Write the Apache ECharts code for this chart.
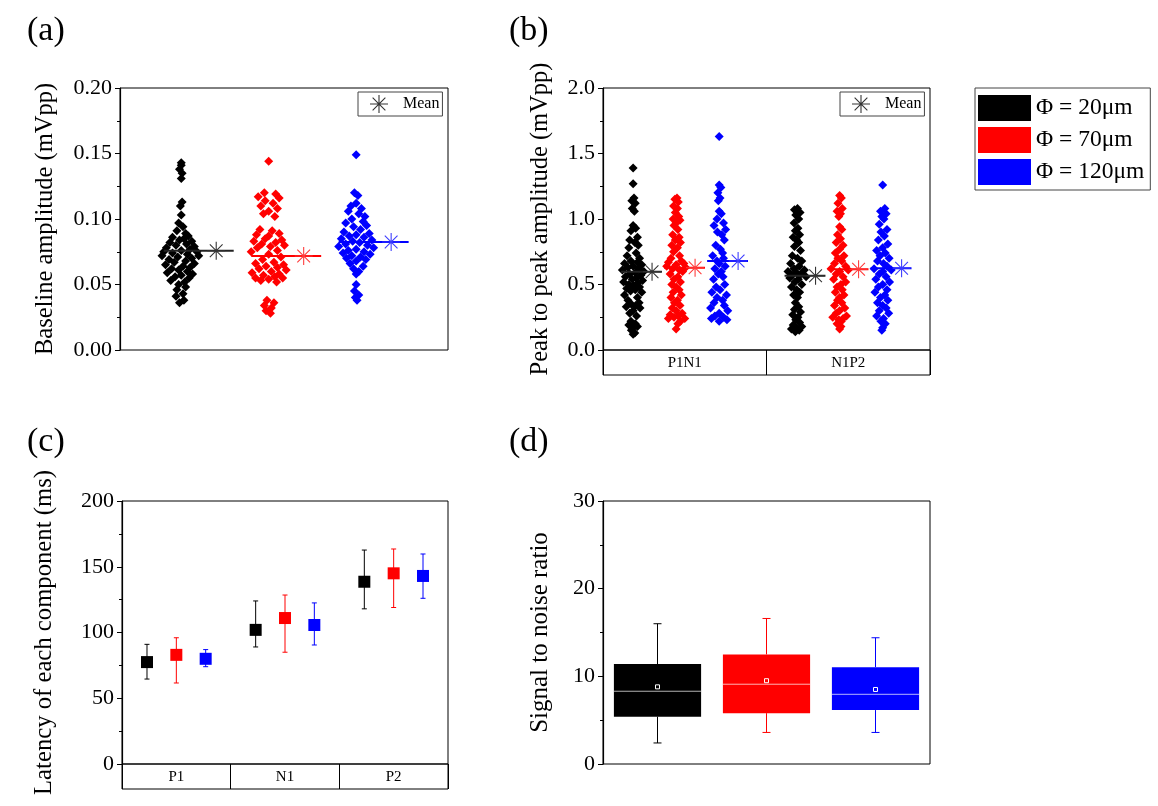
<!DOCTYPE html>
<html><head><meta charset="utf-8">
<script src="https://cdn.jsdelivr.net/npm/echarts@6/dist/echarts.min.js"></script>
<style>html,body{margin:0;padding:0;background:#fff}#c{width:1158px;height:806px}</style>
</head><body><div id="c"></div>
<script>
const FONT = '"Liberation Serif","Times New Roman",serif';
const STAR = 'path://M0 47L100 47L100 53L0 53Z M47 0L53 0L53 100L47 100Z M16.7 12.5L87.5 83.3L83.3 87.5L12.5 16.7Z M83.3 12.5L87.5 16.7L16.7 87.5L12.5 83.3Z';

const groupNames = ['Φ = 20μm', 'Φ = 70μm', 'Φ = 120μm'];
const groupColors = ['#000000', '#ff0000', '#0000ff'];
const starColors = ['#333333', '#ff3b3b', '#3b3bff'];

// ---- (a) Baseline amplitude: [x-jitter, value]
const aPositions = [1, 2, 3];
const aMeans = [0.0758, 0.0718, 0.0824];
const aBlack = [[0,0.143],[0,0.141],[-0.02,0.138],[0.01,0.135],[0,0.131],[0.01,0.113],[-0.01,0.110],[0,0.103],[-0.03,0.097],[0.02,0.094],[-0.05,0.091],[0.05,0.089],[0.08,0.087],[-0.1,0.086],[0.03,0.085],[-0.02,0.084],[0.12,0.083],[-0.13,0.082],[0.06,0.081],[-0.06,0.080],[0.15,0.079],[-0.17,0.078],[0.1,0.077],[0.0,0.076],[-0.2,0.075],[0.18,0.075],[-0.1,0.074],[0.07,0.073],[-0.22,0.072],[0.2,0.072],[-0.04,0.071],[0.12,0.070],[-0.14,0.069],[0.05,0.068],[-0.08,0.067],[0.15,0.066],[-0.18,0.065],[0.02,0.064],[0.1,0.063],[-0.11,0.062],[-0.03,0.061],[0.07,0.060],[-0.16,0.059],[0.13,0.058],[0.0,0.057],[-0.07,0.056],[0.09,0.055],[-0.12,0.053],[0.04,0.052],[-0.03,0.050],[0.05,0.048],[-0.05,0.046],[0.02,0.043],[-0.06,0.041],[0.03,0.038],[-0.02,0.036]];
const aRed = [[0,0.144],[-0.05,0.120],[0.08,0.119],[-0.12,0.117],[0.12,0.116],[-0.04,0.114],[0.05,0.112],[-0.09,0.110],[0.1,0.108],[0.0,0.106],[-0.06,0.104],[0.07,0.102],[-0.1,0.092],[0.04,0.091],[0.12,0.089],[-0.14,0.088],[0.0,0.087],[-0.04,0.085],[0.15,0.084],[-0.17,0.083],[0.08,0.082],[-0.08,0.081],[0.18,0.080],[0.02,0.079],[-0.13,0.078],[0.1,0.076],[-0.2,0.075],[0.0,0.073],[0.14,0.071],[-0.07,0.069],[0.06,0.067],[-0.15,0.066],[0.17,0.065],[-0.03,0.064],[0.1,0.063],[-0.11,0.062],[0.2,0.061],[0.03,0.060],[-0.19,0.059],[0.12,0.058],[-0.06,0.057],[0.07,0.056],[-0.15,0.055],[0.16,0.055],[0.0,0.054],[-0.09,0.053],[0.09,0.052],[-0.02,0.038],[0.06,0.036],[-0.05,0.034],[0.03,0.032],[-0.03,0.030],[0.02,0.028]];
const aBlue = [[0,0.149],[-0.02,0.120],[0.02,0.118],[0.0,0.112],[-0.06,0.110],[0.06,0.108],[-0.09,0.106],[0.03,0.104],[0.1,0.102],[-0.05,0.100],[0.08,0.098],[-0.12,0.097],[0.12,0.095],[-0.03,0.094],[0.05,0.092],[-0.14,0.090],[0.15,0.089],[0.0,0.088],[-0.08,0.087],[0.09,0.086],[-0.17,0.085],[0.18,0.084],[-0.04,0.083],[0.04,0.082],[-0.12,0.081],[0.13,0.080],[-0.2,0.079],[0.2,0.078],[0.0,0.077],[-0.09,0.076],[0.09,0.075],[-0.15,0.074],[0.16,0.073],[-0.05,0.072],[0.05,0.071],[-0.11,0.070],[0.11,0.069],[0.0,0.068],[-0.07,0.066],[0.08,0.064],[-0.03,0.062],[0.03,0.060],[0.0,0.058],[0.0,0.050],[-0.02,0.045],[0.03,0.042],[-0.01,0.040],[0.01,0.038]];

// ---- (b) Peak to peak amplitude: [x-jitter, value]
const bCategories = ['P1N1', 'N1P2'];
const bPositionsP1N1 = [1, 2, 3];
const bPositionsN1P2 = [4.8, 5.8, 6.8];
const bMeansP1N1 = [0.598, 0.628, 0.679];
const bMeansN1P2 = [0.567, 0.616, 0.624];
const bP1N1Black = [[0,1.39],[0,1.27],[0.02,1.16],[-0.03,1.14],[0.05,1.12],[-0.02,1.08],[0.03,1.06],[0.0,0.95],[0.06,0.93],[-0.05,0.91],[0.1,0.86],[-0.08,0.84],[0.04,0.82],[0.12,0.80],[-0.1,0.78],[0.07,0.74],[-0.14,0.72],[0.15,0.70],[-0.05,0.68],[0.1,0.67],[-0.2,0.66],[0.2,0.65],[0.0,0.64],[-0.12,0.63],[0.13,0.62],[-0.25,0.61],[0.25,0.60],[0.05,0.59],[-0.08,0.58],[0.18,0.57],[-0.18,0.56],[0.08,0.55],[-0.02,0.54],[0.22,0.53],[-0.22,0.52],[0.1,0.51],[-0.1,0.50],[0.0,0.49],[0.15,0.48],[-0.15,0.47],[0.05,0.46],[-0.06,0.45],[0.2,0.44],[-0.2,0.42],[0.1,0.40],[-0.12,0.38],[0.14,0.36],[-0.04,0.35],[0.06,0.34],[-0.16,0.33],[0.16,0.32],[0.0,0.30],[-0.08,0.28],[0.08,0.26],[-0.05,0.22],[0.05,0.20],[-0.1,0.19],[0.1,0.18],[0.0,0.17],[-0.04,0.15],[0.04,0.13],[0.0,0.12]];
const bP1N1Red = [[0.02,1.16],[-0.03,1.15],[0.05,1.13],[-0.06,1.10],[0.03,1.08],[-0.02,1.05],[0.06,1.02],[-0.07,1.00],[0.09,0.99],[0.0,0.97],[-0.05,0.95],[0.04,0.92],[-0.08,0.88],[0.07,0.86],[-0.02,0.84],[0.1,0.82],[-0.1,0.80],[0.03,0.78],[-0.06,0.75],[0.08,0.72],[-0.12,0.70],[0.12,0.68],[-0.18,0.67],[0.18,0.66],[0.0,0.65],[-0.22,0.64],[0.22,0.63],[-0.08,0.62],[0.08,0.61],[0.15,0.60],[-0.14,0.58],[0.04,0.56],[-0.05,0.54],[0.1,0.52],[-0.1,0.50],[0.0,0.48],[0.07,0.46],[-0.07,0.44],[0.12,0.42],[-0.12,0.40],[0.03,0.38],[-0.04,0.36],[0.09,0.34],[-0.09,0.32],[0.0,0.30],[0.14,0.28],[-0.14,0.27],[0.05,0.26],[-0.05,0.25],[0.2,0.24],[-0.18,0.24],[0.1,0.22],[0.04,0.20],[0.0,0.16]];
const bP1N1Blue = [[0,1.63],[0.0,1.26],[0.04,1.24],[-0.03,1.20],[0.02,1.16],[-0.02,1.14],[0.0,1.06],[0.05,1.04],[-0.05,1.00],[0.1,0.97],[-0.12,0.95],[0.15,0.92],[-0.04,0.90],[0.06,0.88],[0.12,0.84],[-0.08,0.80],[0.03,0.77],[0.08,0.74],[-0.15,0.72],[0.1,0.70],[-0.05,0.68],[0.0,0.66],[0.14,0.64],[-0.1,0.62],[0.05,0.60],[-0.02,0.58],[0.09,0.56],[-0.13,0.54],[0.13,0.50],[-0.07,0.48],[0.02,0.46],[-0.17,0.44],[0.17,0.42],[-0.05,0.40],[0.08,0.38],[-0.12,0.36],[0.12,0.34],[-0.2,0.32],[0.2,0.30],[0.0,0.28],[-0.1,0.26],[0.1,0.25],[-0.18,0.24],[0.18,0.23],[0.0,0.22]];
const bN1P2Black = [[0.02,1.08],[-0.05,1.07],[0.08,1.05],[-0.02,1.03],[0.05,1.00],[-0.06,0.97],[0.03,0.93],[-0.03,0.91],[0.07,0.88],[-0.08,0.86],[0.0,0.84],[0.05,0.82],[-0.05,0.79],[0.09,0.76],[-0.1,0.72],[0.02,0.70],[0.12,0.68],[-0.14,0.66],[0.06,0.64],[-0.06,0.62],[0.18,0.61],[-0.2,0.60],[0.0,0.59],[0.1,0.58],[-0.1,0.57],[0.22,0.56],[-0.16,0.55],[0.04,0.54],[-0.04,0.52],[0.12,0.50],[-0.12,0.48],[0.0,0.46],[0.07,0.44],[-0.07,0.42],[0.02,0.40],[-0.03,0.36],[0.05,0.33],[-0.05,0.31],[0.09,0.29],[-0.09,0.27],[0.03,0.25],[-0.02,0.23],[0.07,0.21],[-0.08,0.19],[0.12,0.18],[0.0,0.17],[-0.12,0.16],[0.06,0.15],[-0.03,0.14]];
const bN1P2Red = [[0.0,1.18],[0.04,1.16],[-0.04,1.12],[0.06,1.08],[-0.06,1.06],[0.02,1.04],[-0.02,1.02],[0.0,0.94],[0.05,0.92],[-0.05,0.88],[0.02,0.85],[-0.08,0.82],[0.08,0.80],[0.0,0.77],[-0.1,0.74],[0.1,0.72],[-0.04,0.70],[0.05,0.68],[-0.12,0.66],[0.14,0.64],[-0.2,0.62],[0.2,0.61],[0.0,0.60],[-0.08,0.58],[0.08,0.56],[-0.14,0.54],[0.14,0.52],[0.03,0.50],[-0.06,0.48],[0.06,0.46],[-0.1,0.44],[0.1,0.42],[0.0,0.40],[-0.05,0.38],[0.05,0.36],[-0.12,0.34],[0.12,0.32],[0.0,0.30],[-0.08,0.28],[0.16,0.26],[-0.16,0.25],[0.08,0.24],[-0.02,0.23],[0.04,0.22],[-0.06,0.20],[0.03,0.18],[0.0,0.16]];
const bN1P2Blue = [[0.0,1.26],[0.05,1.08],[-0.05,1.06],[0.08,1.04],[-0.02,1.02],[0.03,1.00],[-0.08,0.96],[0.1,0.92],[-0.04,0.90],[0.04,0.87],[-0.1,0.84],[0.12,0.81],[0.0,0.78],[-0.14,0.76],[0.06,0.74],[-0.06,0.72],[0.15,0.70],[-0.12,0.68],[0.02,0.66],[0.1,0.64],[-0.2,0.62],[0.2,0.61],[0.0,0.60],[-0.08,0.58],[0.08,0.56],[-0.16,0.54],[0.16,0.52],[0.0,0.50],[-0.1,0.48],[0.1,0.46],[-0.18,0.44],[0.05,0.42],[-0.05,0.40],[0.12,0.38],[-0.12,0.36],[0.0,0.34],[0.08,0.32],[-0.08,0.30],[0.14,0.28],[-0.14,0.26],[0.02,0.24],[-0.04,0.22],[0.06,0.20],[0.0,0.17],[-0.02,0.15]];

// ---- (c) Latency (ms): mean, lower, upper per component
const cCategories = ['P1', 'N1', 'P2'];
const cOffsets = [-0.27, 0, 0.27];
const cMeanBlack = [77.5, 102.0, 138.6];
const cLowBlack = [64.6, 89.0, 118.0];
const cHighBlack = [91.0, 124.0, 162.7];
const cMeanRed = [83.0, 111.0, 145.0];
const cLowRed = [61.6, 85.0, 119.0];
const cHighRed = [96.0, 128.5, 163.5];
const cMeanBlue = [80.0, 105.7, 143.0];
const cLowBlue = [74.0, 90.5, 126.0];
const cHighBlue = [87.0, 122.5, 159.7];

// ---- (d) SNR box: [whiskerLow, q1, median, q3, whiskerHigh]
const dBoxBlack = [2.4, 5.4, 8.3, 11.4, 16.0];
const dBoxRed = [3.6, 5.8, 9.1, 12.5, 16.6];
const dBoxBlue = [3.6, 6.15, 7.95, 11.05, 14.4];
const dMeans = [8.8, 9.5, 8.5];

// ================= build =================
function yAx(gi, min, max, interval, digits, name, nameGap, nameSize) {
  return {
    type: 'value', gridIndex: gi, min, max, interval,
    name, nameLocation: 'middle', nameGap,
    nameTextStyle: { fontFamily: FONT, fontSize: nameSize, color: '#000' },
    axisLine: { show: true, lineStyle: { color: '#000', width: 1.2 } },
    axisTick: { show: true, inside: false, length: 5, lineStyle: { color: '#000' } },
    minorTick: { show: true, splitNumber: 2, length: 3, lineStyle: { color: '#000' } },
    splitLine: { show: false }, minorSplitLine: { show: false },
    axisLabel: { fontFamily: FONT, fontSize: 22, color: '#000', margin: 8, formatter: v => v.toFixed(digits) }
  };
}
function catAx(gi, data) {
  return { type: 'category', gridIndex: gi, data, position: 'top',
    axisLine: { show: false }, axisTick: { show: false },
    splitLine: { show: true, lineStyle: { color: '#000', width: 1 } },
    axisLabel: { inside: true, margin: 6, fontFamily: FONT, fontSize: 15, color: '#000' } };
}
const gridStyle = { show: true, borderColor: '#000', borderWidth: 1, backgroundColor: 'transparent' };

const series = [];
function jitter(xi, pts, pos, ci) {
  series.push({ type: 'scatter', name: groupNames[ci], xAxisIndex: xi, yAxisIndex: xi, symbol: 'diamond', symbolSize: 9,
    itemStyle: { color: groupColors[ci], opacity: 1 }, z: 2, silent: true, data: pts.map(p => [pos + p[0], p[1]]) });
}
function meanMark(xi, pos, mean, ci, l, r, off) {
  series.push({ type: 'line', name: groupNames[ci], xAxisIndex: xi, yAxisIndex: xi, symbol: 'none', silent: true, z: 3,
    lineStyle: { color: ci === 0 ? '#222' : groupColors[ci], width: 2 }, data: [[pos + l, mean], [pos + r, mean]] });
  series.push({ type: 'scatter', name: 'Mean', xAxisIndex: xi, yAxisIndex: xi, symbol: STAR, symbolSize: 18, silent: true, z: 4,
    itemStyle: { color: starColors[ci], opacity: 1 }, data: [[pos + off, mean]] });
}
// (a)
[aBlack, aRed, aBlue].forEach((pts, i) => jitter(0, pts, aPositions[i], i));
aMeans.forEach((m, i) => meanMark(0, aPositions[i], m, i, -0.2, 0.6, 0.4));
// (b)
[bP1N1Black, bP1N1Red, bP1N1Blue].forEach((pts, i) => jitter(1, pts, bPositionsP1N1[i], i));
[bN1P2Black, bN1P2Red, bN1P2Blue].forEach((pts, i) => jitter(1, pts, bPositionsN1P2[i], i));
bMeansP1N1.forEach((m, i) => meanMark(1, bPositionsP1N1[i], m, i, -0.28, 0.67, 0.44));
bMeansN1P2.forEach((m, i) => meanMark(1, bPositionsN1P2[i], m, i, -0.28, 0.67, 0.44));
// (c)
[[cMeanBlack, cLowBlack, cHighBlack], [cMeanRed, cLowRed, cHighRed], [cMeanBlue, cLowBlue, cHighBlue]].forEach((g, ci) => {
  const [means, lows, highs] = g;
  const color = groupColors[ci];
  series.push({ type: 'custom', name: groupNames[ci], xAxisIndex: 3, yAxisIndex: 3, z: 2, silent: true,
    data: lows.map((lo, i) => [i + 0.5 + cOffsets[ci], lo, highs[i]]),
    encode: { x: 0, y: [1, 2] },
    renderItem: (params, api) => {
      const x = api.value(0);
      const a = api.coord([x, api.value(1)]), b = api.coord([x, api.value(2)]);
      const w = 2.5;
      return { type: 'group', children: [
        { type: 'line', shape: { x1: a[0], y1: a[1], x2: b[0], y2: b[1] }, style: { stroke: color, lineWidth: 1 } },
        { type: 'line', shape: { x1: a[0] - w, y1: a[1], x2: a[0] + w, y2: a[1] }, style: { stroke: color, lineWidth: 1 } },
        { type: 'line', shape: { x1: b[0] - w, y1: b[1], x2: b[0] + w, y2: b[1] }, style: { stroke: color, lineWidth: 1 } }
      ] };
    } });
  series.push({ type: 'scatter', name: groupNames[ci], xAxisIndex: 3, yAxisIndex: 3, symbol: 'rect', symbolSize: 12, z: 3, silent: true,
    itemStyle: { color, opacity: 1 }, data: means.map((m, i) => [i + 0.5 + cOffsets[ci], m]) });
});
// (d)
[dBoxBlack, dBoxRed, dBoxBlue].forEach((box, ci) => {
  const color = groupColors[ci];
  series.push({ type: 'custom', name: groupNames[ci], xAxisIndex: 5, yAxisIndex: 5, silent: true,
    data: [[ci, ...box, dMeans[ci]]],
    encode: { x: 0, y: [1, 2, 3, 4, 5, 6] },
    renderItem: (params, api) => {
      const c = api.value(0);
      const band = api.size([1, 0])[0];
      const bw = band * 0.8;
      const p = [1, 2, 3, 4, 5, 6].map(k => api.coord([c, api.value(k)]));
      const x = p[0][0], cap = 4;
      const ln = (x1, y1, x2, y2, s) => ({ type: 'line', shape: { x1, y1, x2, y2 }, style: { stroke: s, lineWidth: 1 } });
      return { type: 'group', children: [
        ln(x, p[4][1], x, p[3][1], color),
        ln(x, p[1][1], x, p[0][1], color),
        ln(x - cap, p[4][1], x + cap, p[4][1], color),
        ln(x - cap, p[0][1], x + cap, p[0][1], color),
        { type: 'rect', shape: { x: x - bw / 2, y: p[3][1], width: bw, height: p[1][1] - p[3][1] }, style: { fill: color } },
        ln(x - bw / 2, p[2][1], x + bw / 2, p[2][1], 'rgba(255,255,255,0.7)'),
        { type: 'rect', shape: { x: x - 2, y: p[5][1] - 2, width: 4, height: 4 }, style: { fill: 'none', stroke: '#fff', lineWidth: 1 } }
      ] };
    } });
});

const titleStyle = { fontFamily: FONT, fontSize: 34, fontWeight: 'normal', color: '#000' };
const option = {
  animation: false,
  backgroundColor: '#fff',
  title: [
    { text: '(a)', left: 22, top: 9, textStyle: titleStyle },
    { text: '(b)', left: 504, top: 9, textStyle: titleStyle },
    { text: '(c)', left: 22, top: 420, textStyle: titleStyle },
    { text: '(d)', left: 504, top: 420, textStyle: titleStyle }
  ],
  legend: [
    { data: groupNames, orient: 'vertical', left: 975, top: 88, itemWidth: 53, itemHeight: 26, itemGap: 6, icon: 'rect',
      padding: [7, 6, 5, 3], borderColor: '#444', borderWidth: 1, selectedMode: false,
      textStyle: { fontFamily: FONT, fontSize: 23.5, color: '#000' } },
    { data: [{ name: 'Mean', icon: STAR }], left: 358, top: 92, itemWidth: 18, itemHeight: 18, padding: [3, 3, 3, 12],
      borderColor: '#444', borderWidth: 1, selectedMode: false,
      textStyle: { fontFamily: FONT, fontSize: 16, color: '#000', padding: [0, 0, 0, 10] } },
    { data: [{ name: 'Mean', icon: STAR }], left: 840, top: 92, itemWidth: 18, itemHeight: 18, padding: [3, 3, 3, 12],
      borderColor: '#444', borderWidth: 1, selectedMode: false,
      textStyle: { fontFamily: FONT, fontSize: 16, color: '#000', padding: [0, 0, 0, 10] } }
  ],
  grid: [
    Object.assign({ left: 120, top: 88, width: 328, height: 262 }, gridStyle),
    Object.assign({ left: 603, top: 88, width: 327, height: 262 }, gridStyle),
    Object.assign({ left: 603, top: 350, width: 327, height: 25 }, gridStyle),
    Object.assign({ left: 122, top: 501, width: 326, height: 263 }, gridStyle),
    Object.assign({ left: 122, top: 764, width: 326, height: 25 }, gridStyle),
    Object.assign({ left: 603, top: 501, width: 327, height: 263 }, gridStyle)
  ],
  xAxis: [
    { type: 'value', gridIndex: 0, min: 0.3, max: 4.05, show: false },
    { type: 'value', gridIndex: 1, min: 0.3, max: 7.9, show: false },
    catAx(2, bCategories),
    { type: 'value', gridIndex: 3, min: 0, max: 3, show: false },
    catAx(4, cCategories),
    { type: 'category', gridIndex: 5, data: groupNames, show: false }
  ],
  yAxis: [
    yAx(0, 0, 0.2, 0.05, 2, 'Baseline amplitude (mVpp)', 62, 24.5),
    yAx(1, 0, 2.0, 0.5, 1, 'Peak to peak amplitude (mVpp)', 50, 24.5),
    { type: 'value', gridIndex: 2, show: false },
    yAx(3, 0, 200, 50, 0, 'Latency of each component (ms)', 65, 24.7),
    { type: 'value', gridIndex: 4, show: false },
    yAx(5, 0, 30, 10, 0, 'Signal to noise ratio', 50, 25)
  ],
  series
};
const chart = echarts.init(document.getElementById('c'), null, { renderer: 'canvas' });
chart.setOption(option);
</script></body></html>
